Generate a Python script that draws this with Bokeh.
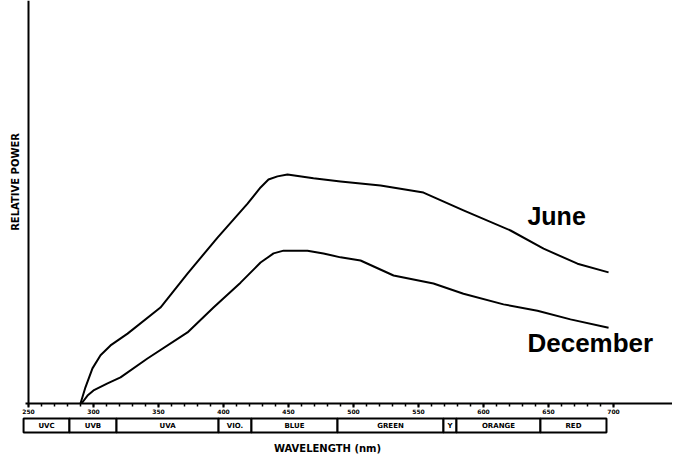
import math
from bokeh.plotting import figure
from bokeh.models import Range1d, LinearAxis, FixedTicker, Label, ColumnDataSource
from bokeh.embed import file_html
from bokeh.resources import INLINE

# ---- data ----
june_nm = [290.0, 293.8, 299.2, 305.4, 313.1, 326.2, 351.5, 372.3, 395.4, 418.5,
           428.5, 434.6, 441.5, 449.2, 469.2, 490.0, 520.8, 553.8, 584.6, 620.8,
           646.2, 672.3, 696.2]
june_power = [0.0, 4.1, 8.9, 12.2, 14.7, 17.7, 24.3, 32.9, 42.0, 50.6,
              54.7, 56.7, 57.5, 58.0, 57.0, 56.2, 55.2, 53.4, 48.9, 43.8,
              39.2, 35.4, 33.2]

dec_nm = [290.8, 295.4, 300.0, 310.8, 320.8, 341.5, 372.3, 392.3, 413.1, 428.5,
          438.5, 446.2, 464.6, 476.9, 490.0, 505.4, 530.8, 561.5, 584.6, 615.4,
          641.5, 666.9, 696.2]
dec_power = [0.0, 2.0, 3.3, 5.1, 6.6, 11.4, 18.0, 24.3, 30.6, 35.7,
             38.0, 38.7, 38.7, 38.0, 37.0, 36.2, 32.4, 30.4, 27.8, 25.1,
             23.5, 21.3, 19.2]

band_names = ["UVC", "UVB", "UVA", "VIO.", "BLUE", "GREEN", "Y", "ORANGE", "RED"]
band_edges = [246.2, 281.5, 317.7, 396.2, 421.5, 487.7, 569.2, 579.2, 643.8, 694.6]

major_ticks = [250, 300, 350, 400, 450, 500, 550, 600, 650, 700]
minor_ticks = list(range(250, 701, 10))

FONT = "Liberation Sans"
WIDE = "DejaVu Sans"

p = figure(width=672, height=457,
           x_range=Range1d(228.46, 745.38), y_range=Range1d(-13.67, 102.03),
           output_backend="svg", toolbar_location=None,
           x_axis_location=None, y_axis_location=None,
           min_border_left=0, min_border_right=0,
           min_border_top=0, min_border_bottom=0)
p.grid.visible = False
p.outline_line_color = None
p.background_fill_color = "white"

# x axis at power = 0
xaxis = LinearAxis(fixed_location=0, bounds=(247.7, 745.38),
                   ticker=FixedTicker(ticks=major_ticks, minor_ticks=minor_ticks))
xaxis.axis_line_width = 2
xaxis.axis_line_color = "black"
xaxis.major_tick_in = 0
xaxis.major_tick_out = 4
xaxis.minor_tick_in = 0
xaxis.minor_tick_out = 3
xaxis.major_tick_line_width = 2
xaxis.minor_tick_line_width = 1.5
xaxis.major_label_standoff = 1
xaxis.major_label_text_font = WIDE
xaxis.major_label_text_font_style = "bold"
xaxis.major_label_text_font_size = "6px"
xaxis.major_label_text_color = "black"
p.add_layout(xaxis, "below")

# y axis at 250 nm
yaxis = LinearAxis(fixed_location=250, bounds=(0, 102.03),
                   ticker=FixedTicker(ticks=[]))
yaxis.axis_line_width = 2
yaxis.axis_line_color = "black"
p.add_layout(yaxis, "left")

# curves
p.line(june_nm, june_power, line_color="black", line_width=2, line_join="round")
p.line(dec_nm, dec_power, line_color="black", line_width=2, line_join="round")

# spectrum band strip
band_src = ColumnDataSource(dict(
    left=band_edges[:-1], right=band_edges[1:],
    mid=[(a + b) / 2 for a, b in zip(band_edges[:-1], band_edges[1:])],
    name=band_names))
p.quad(left="left", right="right", top=-3.8, bottom=-7.34, source=band_src,
       fill_color="white", line_color="black", line_width=2)
p.text(x="mid", y=-5.57, text="name", source=band_src,
       text_align="center", text_baseline="middle",
       text_font_size="7px", text_font_style="bold", text_color="black",
       text_font={"value": WIDE})

# titles and series labels
p.add_layout(Label(x=240.0, y=56.1, text="RELATIVE POWER", angle=math.pi / 2,
                   text_font=WIDE, text_font_style="bold", text_font_size="10px",
                   text_color="black", text_align="center", text_baseline="middle"))
p.add_layout(Label(x=633.8, y=47.4, text="June", text_font=FONT,
                   text_font_style="bold", text_font_size="25px",
                   text_color="black", text_baseline="alphabetic"))
p.add_layout(Label(x=633.8, y=15.2, text="December", text_font=FONT,
                   text_font_style="bold", text_font_size="26px",
                   text_color="black", text_baseline="alphabetic"))
p.add_layout(Label(x=480, y=-11.5, text="WAVELENGTH (nm)", text_font=WIDE,
                   text_font_style="bold", text_font_size="10px",
                   text_color="black", text_align="center",
                   text_baseline="middle"))

open("out.html", "w").write(file_html(p, INLINE))
